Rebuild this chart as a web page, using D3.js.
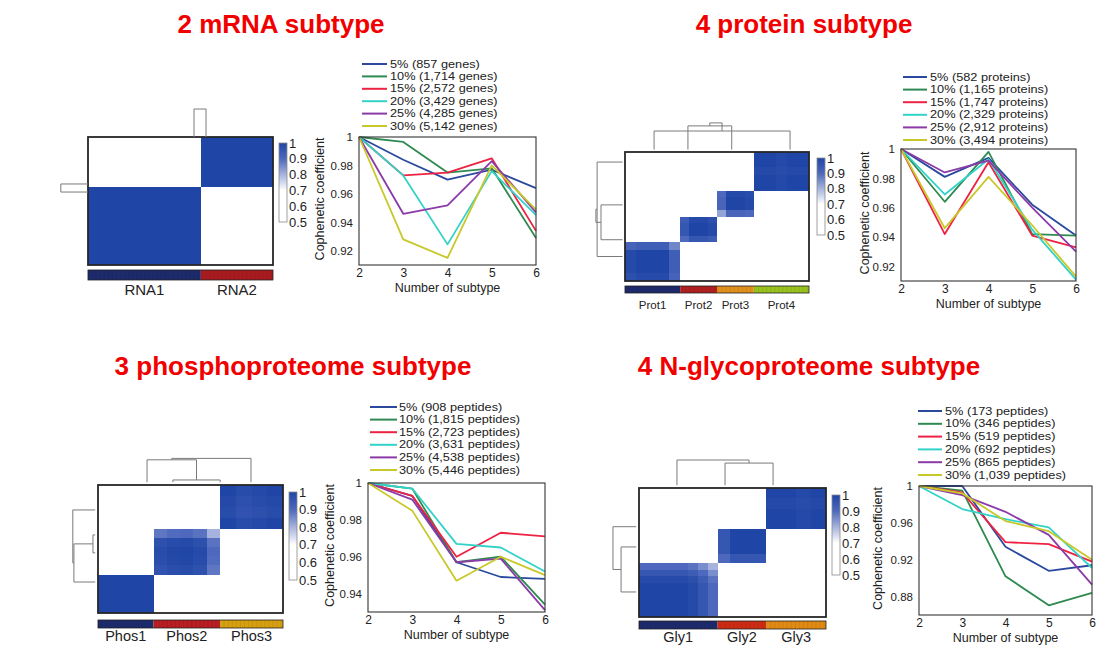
<!DOCTYPE html>
<html><head><meta charset="utf-8">
<script src="https://cdn.jsdelivr.net/npm/d3@7"></script>
<style>body{margin:0;background:#fff}svg{display:block;font-family:"Liberation Sans",Arial,Helvetica,sans-serif}</style>
</head><body>
<svg id="chart" width="1104" height="653"></svg>
<script>
// ---------------- DATA ----------------
const panelTitles = ["2 mRNA subtype", "4 protein subtype", "3 phosphoproteome subtype", "4 N-glycoproteome subtype"];
const subtypeNumbers = [2, 3, 4, 5, 6];
const seriesColors = ["#2b4a9e", "#2e8a50", "#ee2242", "#33d2c8", "#8c3aa8", "#c8c82a"];

const mrnaLegend = ["5% (857 genes)", "10% (1,714 genes)", "15% (2,572 genes)", "20% (3,429 genes)", "25% (4,285 genes)", "30% (5,142 genes)"];
const mrnaValues = [
  [1, 0.984, 0.970, 0.977, 0.964],
  [1, 0.9965, 0.975, 0.978, 0.929],
  [1, 0.973, 0.975, 0.985, 0.934],
  [1, 0.973, 0.9245, 0.976, 0.945],
  [1, 0.946, 0.952, 0.983, 0.947],
  [1, 0.928, 0.915, 0.980, 0.949]
];
const proteinLegend = ["5% (582 proteins)", "10% (1,165 proteins)", "15% (1,747 proteins)", "20% (2,329 proteins)", "25% (2,912 proteins)", "30% (3,494 proteins)"];
const proteinValues = [
  [1, 0.981, 0.994, 0.962, 0.941],
  [1, 0.964, 0.998, 0.942, 0.941],
  [1, 0.942, 0.991, 0.941, 0.933],
  [1, 0.969, 0.993, 0.945, 0.911],
  [1, 0.984, 0.992, 0.960, 0.930],
  [1, 0.946, 0.981, 0.948, 0.913]
];
const phosphoLegend = ["5% (908 peptides)", "10% (1,815 peptides)", "15% (2,723 peptides)", "20% (3,631 peptides)", "25% (4,538 peptides)", "30% (5,446 peptides)"];
const phosphoValues = [
  [1, 0.993, 0.957, 0.949, 0.948],
  [1, 0.997, 0.957, 0.960, 0.934],
  [1, 0.993, 0.960, 0.973, 0.971],
  [1, 0.997, 0.967, 0.965, 0.952],
  [1, 0.991, 0.957, 0.959, 0.931],
  [1, 0.985, 0.947, 0.960, 0.950]
];
const glycoLegend = ["5% (173 peptides)", "10% (346 peptides)", "15% (519 peptides)", "20% (692 peptides)", "25% (865 peptides)", "30% (1,039 peptides)"];
const glycoValues = [
  [1, 1.0, 0.934, 0.908, 0.914],
  [1, 0.995, 0.902, 0.8705, 0.884],
  [1, 0.993, 0.939, 0.937, 0.918],
  [1, 0.975, 0.964, 0.955, 0.911],
  [1, 0.990, 0.972, 0.947, 0.893],
  [1, 0.992, 0.962, 0.951, 0.920]
];
const mrnaYTicks = [0.92, 0.94, 0.96, 0.98, 1];
const proteinYTicks = [0.92, 0.94, 0.96, 0.98, 1];
const phosphoYTicks = [0.94, 0.96, 0.98, 1];
const glycoYTicks = [0.88, 0.92, 0.96, 1];
const mrnaYDomain = [0.91, 1];
const proteinYDomain = [0.91, 1];
const phosphoYDomain = [0.93, 1];
const glycoYDomain = [0.86, 1];

// consensus heatmaps: cluster names, relative sizes, per-leaf consensus strength
const mrnaClusters = ["RNA1", "RNA2"];
const mrnaSizes = [61, 39];
const mrnaStrength = [[1, 1, 1, 1], [1, 1, 1]];
const proteinClusters = ["Prot1", "Prot2", "Prot3", "Prot4"];
const proteinSizes = [30, 20, 20, 30];
const proteinStrength = [[0.97, 1, 1, 1, 0.86], [0.9, 1, 1, 0.97], [0.82, 1, 1, 0.98], [1, 1, 0.98, 1, 1]];
const phosphoClusters = ["Phos1", "Phos2", "Phos3"];
const phosphoSizes = [30, 36, 34];
const phosphoStrength = [[1, 1, 1, 1], [0.96, 0.99, 1, 0.97, 0.8], [1, 0.96, 0.98, 1]];
const glycoClusters = ["Gly1", "Gly2", "Gly3"];
const glycoSizes = [42, 26, 32];
const glycoStrength = [[1, 1, 1, 1, 1, 0.97, 0.9, 0.8], [0.9, 1, 1, 1], [1, 1, 0.98, 1]];
const mrnaBarColors = ["#1d2b6c", "#a81c20"];
const proteinBarColors = ["#1d2b6c", "#b02020", "#e0901c", "#98c21e"];
const phosphoBarColors = ["#1d2b6c", "#b81e22", "#d6a010"];
const glycoBarColors = ["#1d2b6c", "#cc2c14", "#e08a14"];
const colorbarTicks = [0.5, 0.6, 0.7, 0.8, 0.9, 1];

// dendrograms: leaf positions (fraction of heatmap axis), leaf heights, merges [a, b, height]
const mrnaTopDendro = {leaves: [0.573, 0.638], leafH: [0, 0], merges: [[0, 1, 1.0]]};
const mrnaLeftDendro = {leaves: [0.367, 0.43], leafH: [0, 0], merges: [[0, 1, 0.97]]};
const proteinTopDendro = {leaves: [0.158, 0.342, 0.58, 0.897], leafH: [0.08, 0.08, 0.08, 0.08], merges: [[1, 2, 0.87], [0, 3, 0.7], [4, 5, 0.97]]};
const proteinLeftDendro = {leaves: [0.078, 0.41, 0.68, 0.81], leafH: [0.08, 0.08, 0.08, 0.08], merges: [[1, 2, 0.8], [0, 3, 0.93], [4, 5, 0.97]]};
const phosphoTopDendro = {leaves: [0.265, 0.405, 0.66, 0.827], leafH: [0.1, 0.1, 0.1, 0.1], merges: [[1, 2, 0.18], [0, 4, 0.9], [5, 3, 0.95]]};
const phosphoLeftDendro = {leaves: [0.195, 0.39, 0.53, 0.758], leafH: [0.1, 0.1, 0.1, 0.1], merges: [[1, 2, 0.18], [4, 3, 0.86], [0, 5, 0.9]]};
const glycoTopDendro = {leaves: [0.203, 0.46, 0.717], leafH: [0.1, 0.1, 0.1], merges: [[1, 2, 0.89], [0, 3, 1.0]]};
const glycoLeftDendro = {leaves: [0.30, 0.457, 0.806], leafH: [0.1, 0.1, 0.1], merges: [[1, 2, 0.64], [0, 3, 0.93]]};

// ---------------- LAYOUT ----------------
const layouts = [
  {title: [281, 33], heat: {L: 88, T: 137, R: 273, B: 265}, bar: [270, 280], labY: 295, labSize: 15,
   cbar: {L: 279, T: 143, R: 287, B: 222}, plot: {L: 359, T: 137, R: 536, B: 265},
   legend: {x0: 362, x1: 387, tx: 390, y0: 64, dy: 12.4}, ylabX: 320, dendroPx: 28},
  {title: [804, 33], heat: {L: 625, T: 152, R: 809, B: 281}, bar: [286, 293], labY: 309, labSize: 11.5,
   cbar: {L: 817, T: 158, R: 825, B: 235}, plot: {L: 901, T: 149, R: 1076, B: 281},
   legend: {x0: 903, x1: 927, tx: 930, y0: 77, dy: 12.6}, ylabX: 865, dendroPx: 30},
  {title: [293, 375], heat: {L: 98, T: 485, R: 283, B: 613}, bar: [620, 628], labY: 641, labSize: 14.5,
   cbar: {L: 289, T: 492, R: 297, B: 580}, plot: {L: 368, T: 483, R: 545, B: 612},
   legend: {x0: 370, x1: 397, tx: 399, y0: 407, dy: 12.6}, ylabX: 330, dendroPx: 28},
  {title: [809, 375], heat: {L: 639, T: 488, R: 826, B: 617}, bar: [621, 629], labY: 642, labSize: 14.5,
   cbar: {L: 832, T: 495, R: 840, B: 575}, plot: {L: 919, T: 486, R: 1092, B: 615},
   legend: {x0: 918, x1: 942, tx: 945, y0: 411, dy: 12.8}, ylabX: 878, dendroPx: 28}
];

const panelData = [
  {legend: mrnaLegend, values: mrnaValues, yTicks: mrnaYTicks, yDomain: mrnaYDomain, clusters: mrnaClusters, sizes: mrnaSizes, strength: mrnaStrength, barColors: mrnaBarColors, top: mrnaTopDendro, left: mrnaLeftDendro},
  {legend: proteinLegend, values: proteinValues, yTicks: proteinYTicks, yDomain: proteinYDomain, clusters: proteinClusters, sizes: proteinSizes, strength: proteinStrength, barColors: proteinBarColors, top: proteinTopDendro, left: proteinLeftDendro},
  {legend: phosphoLegend, values: phosphoValues, yTicks: phosphoYTicks, yDomain: phosphoYDomain, clusters: phosphoClusters, sizes: phosphoSizes, strength: phosphoStrength, barColors: phosphoBarColors, top: phosphoTopDendro, left: phosphoLeftDendro},
  {legend: glycoLegend, values: glycoValues, yTicks: glycoYTicks, yDomain: glycoYDomain, clusters: glycoClusters, sizes: glycoSizes, strength: glycoStrength, barColors: glycoBarColors, top: glycoTopDendro, left: glycoLeftDendro}
];

// ---------------- DRAW ----------------
const svg = d3.select("#chart");
svg.append("rect").attr("width", 1104).attr("height", 653).attr("fill", "#fff");
const heatColor = d3.scaleLinear().domain([0.5, 0.7, 0.9, 1]).range(["#ffffff", "#ffffff", "#4d68bc", "#1f45a6"]).clamp(true);
const defs = svg.append("defs");

function drawDendro(g, d, axisScale, origin, px, orient) {
  const hS = d3.scaleLinear([0, 1], [0, px]);
  const pos = d.leaves.map(f => axisScale(f));
  const ht = d.leafH.slice();
  const lines = [];
  d.merges.forEach(([a, b, h]) => {
    lines.push([pos[a], ht[a], pos[a], h]);
    lines.push([pos[b], ht[b], pos[b], h]);
    lines.push([pos[a], h, pos[b], h]);
    pos.push((pos[a] + pos[b]) / 2);
    ht.push(h);
  });
  g.selectAll(null).data(lines).join("line")
    .attr("stroke", "#7a7a7a").attr("stroke-width", 1)
    .each(function (l) {
      const s = d3.select(this);
      if (orient === "top") {
        s.attr("x1", l[0]).attr("y1", origin - hS(l[1])).attr("x2", l[2]).attr("y2", origin - hS(l[3]));
      } else {
        s.attr("y1", l[0]).attr("x1", origin - hS(l[1])).attr("y2", l[2]).attr("x2", origin - hS(l[3]));
      }
    });
}

panelData.forEach((pd, pi) => {
  const lay = layouts[pi];
  const g = svg.append("g");

  // title
  g.append("text").attr("x", lay.title[0]).attr("y", lay.title[1])
    .attr("text-anchor", "middle").attr("font-size", 26).attr("font-weight", "bold")
    .attr("fill", "#f20000").text(panelTitles[pi]);

  // ---- heatmap ----
  const H = lay.heat;
  const total = d3.sum(pd.sizes);
  const xS = d3.scaleLinear([0, total], [H.L, H.R]);
  const yS = d3.scaleLinear([0, total], [H.B, H.T]);
  const leaves = [];
  let u = 0;
  pd.strength.forEach((arr, k) => {
    const w = pd.sizes[k] / arr.length;
    arr.forEach(s => { leaves.push({k, s, u0: u, u1: u + w}); u += w; });
  });
  const cells = [];
  leaves.forEach(a => leaves.forEach(b => { if (a.k === b.k) cells.push({a, b, v: (a.s + b.s) / 2}); }));
  g.append("rect").attr("x", H.L).attr("y", H.T).attr("width", H.R - H.L).attr("height", H.B - H.T).attr("fill", heatColor(0.5));
  g.append("g").attr("shape-rendering", "crispEdges").selectAll("rect").data(cells).join("rect")
    .attr("x", c => Math.round(xS(c.a.u0))).attr("width", c => Math.round(xS(c.a.u1)) - Math.round(xS(c.a.u0)))
    .attr("y", c => Math.round(yS(c.b.u1))).attr("height", c => Math.round(yS(c.b.u0)) - Math.round(yS(c.b.u1)))
    .attr("fill", c => heatColor(c.v));
  g.append("rect").attr("x", H.L).attr("y", H.T).attr("width", H.R - H.L).attr("height", H.B - H.T)
    .attr("fill", "none").attr("stroke", "#262626").attr("stroke-width", 1.8);

  // dendrograms
  drawDendro(g.append("g"), pd.top, d3.scaleLinear([0, 1], [H.L, H.R]), H.T, lay.dendroPx, "top");
  drawDendro(g.append("g"), pd.left, d3.scaleLinear([0, 1], [H.T, H.B]), H.L, lay.dendroPx, "left");

  // annotation bar
  const cum = d3.cumsum(pd.sizes);
  const clusterRanges = pd.sizes.map((s, k) => [cum[k] - s, cum[k]]);
  const barG = g.append("g");
  barG.selectAll("rect").data(clusterRanges).join("rect")
    .attr("x", r => xS(r[0])).attr("width", r => xS(r[1]) - xS(r[0]))
    .attr("y", lay.bar[0]).attr("height", lay.bar[1] - lay.bar[0])
    .attr("fill", (r, k) => pd.barColors[k]);
  const stripes = d3.range(0, total, 2.2);
  barG.selectAll("line").data(stripes).join("line")
    .attr("x1", s => xS(s)).attr("x2", s => xS(s))
    .attr("y1", lay.bar[0]).attr("y2", lay.bar[1])
    .attr("stroke", "#000").attr("stroke-opacity", 0.12).attr("stroke-width", 0.6);
  barG.append("rect").attr("x", H.L).attr("y", lay.bar[0]).attr("width", H.R - H.L).attr("height", lay.bar[1] - lay.bar[0])
    .attr("fill", "none").attr("stroke", "#222").attr("stroke-width", 0.8);
  g.append("g").selectAll("text").data(pd.clusters).join("text")
    .attr("x", (c, k) => xS((clusterRanges[k][0] + clusterRanges[k][1]) / 2))
    .attr("y", lay.labY).attr("text-anchor", "middle").attr("font-size", lay.labSize)
    .attr("fill", "#222").text(c => c);

  // colorbar
  const C = lay.cbar;
  const cS = d3.scaleLinear([0.5, 1], [C.B, C.T]);
  const gid = "cb" + pi;
  const grad = defs.append("linearGradient").attr("id", gid).attr("x1", 0).attr("y1", 1).attr("x2", 0).attr("y2", 0);
  grad.selectAll("stop").data(d3.range(0.5, 1.0001, 0.025)).join("stop")
    .attr("offset", v => (v - 0.5) / 0.5).attr("stop-color", v => heatColor(v));
  g.append("rect").attr("x", C.L).attr("y", C.T).attr("width", C.R - C.L).attr("height", C.B - C.T)
    .attr("fill", `url(#${gid})`).attr("stroke", "#8a8a8a").attr("stroke-width", 0.8);
  const cAxis = g.append("g").attr("transform", `translate(${C.R},0)`)
    .call(d3.axisRight(cS).tickValues(colorbarTicks).tickSize(0).tickPadding(2).tickFormat(v => v === 1 ? "1" : d3.format(".1f")(v)));
  cAxis.select(".domain").remove();
  cAxis.selectAll("text").attr("font-size", 13).attr("fill", "#222").attr("font-family", "'Liberation Sans',Arial,sans-serif");

  // ---- line chart ----
  const P = lay.plot;
  const x = d3.scaleLinear([2, 6], [P.L, P.R]);
  const y = d3.scaleLinear(pd.yDomain, [P.B, P.T]);
  const line = d3.line().x((v, i) => x(subtypeNumbers[i])).y(v => y(v));
  const lg = g.append("g");
  lg.selectAll("path").data(pd.values).join("path")
    .attr("d", line).attr("fill", "none")
    .attr("stroke", (v, i) => seriesColors[i]).attr("stroke-width", 1.8).attr("stroke-linejoin", "round");
  g.append("rect").attr("x", P.L).attr("y", P.T).attr("width", P.R - P.L).attr("height", P.B - P.T)
    .attr("fill", "none").attr("stroke", "#333").attr("stroke-width", 1.1);
  const ya = g.append("g").attr("transform", `translate(${P.L},0)`)
    .call(d3.axisLeft(y).tickValues(pd.yTicks).tickSize(0).tickPadding(6).tickFormat(v => v === 1 ? "1" : d3.format(".2f")(v)));
  ya.select(".domain").remove();
  ya.selectAll("text").attr("font-size", 11.5).attr("fill", "#222").attr("font-family", "'Liberation Sans',Arial,sans-serif");
  const xa = g.append("g").attr("transform", `translate(0,${P.B})`)
    .call(d3.axisBottom(x).tickValues(subtypeNumbers).tickSize(0).tickPadding(3).tickFormat(d3.format("d")));
  xa.select(".domain").remove();
  xa.selectAll("text").attr("font-size", 12).attr("fill", "#222").attr("font-family", "'Liberation Sans',Arial,sans-serif");
  g.append("text").attr("x", (P.L + P.R) / 2).attr("y", P.B + 27).attr("text-anchor", "middle")
    .attr("font-size", 12.5).attr("fill", "#222").text("Number of subtype");
  g.append("text").attr("transform", `translate(${lay.ylabX},${(P.T + P.B) / 2 - 2}) rotate(-90)`)
    .attr("text-anchor", "middle").attr("dominant-baseline", "central")
    .attr("font-size", 12.5).attr("fill", "#222").text("Cophenetic coefficient");

  // legend
  const L = lay.legend;
  const leg = g.append("g");
  const rows = leg.selectAll("g").data(pd.legend).join("g")
    .attr("transform", (d, i) => `translate(0,${L.y0 + i * L.dy})`);
  rows.append("line").attr("x1", L.x0).attr("x2", L.x1).attr("y1", 0).attr("y2", 0)
    .attr("stroke", (d, i) => seriesColors[i]).attr("stroke-width", 2);
  rows.append("text").attr("transform", `translate(${L.tx},0) scale(1.18,1)`)
    .attr("dominant-baseline", "central")
    .attr("font-size", 10.8).attr("fill", "#222").text(d => d);
});
</script>
</body></html>
